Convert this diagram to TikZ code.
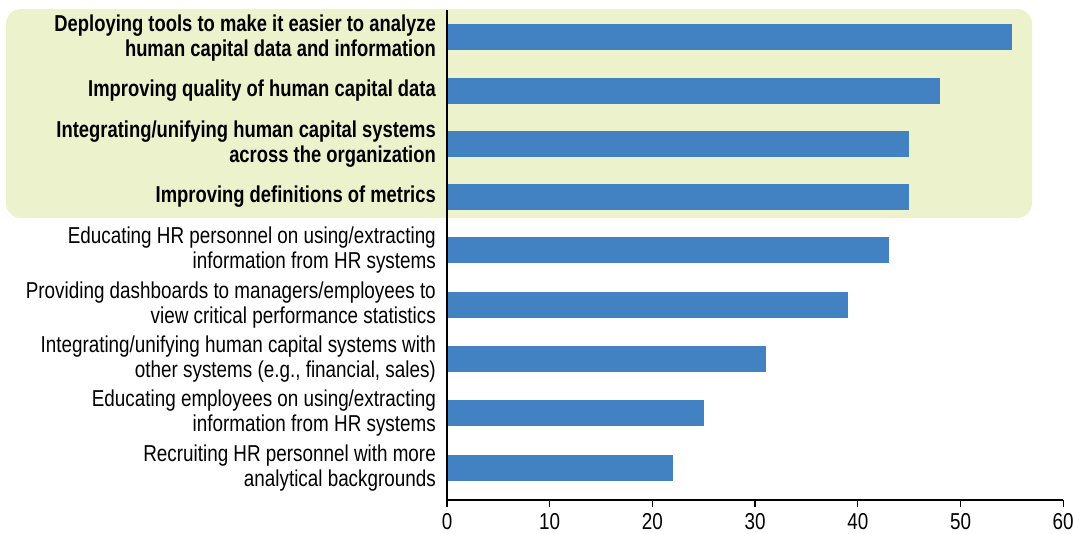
\documentclass[tikz,border=0pt]{standalone}
\usepackage{fontspec}
\setmainfont{Liberation Sans}[FakeStretch=0.82, BoldFeatures={FakeStretch=0.8}]
\usetikzlibrary{positioning}
\definecolor{barblue}{RGB}{66,130,194}
\definecolor{paleolive}{RGB}{236,243,204}

\begin{document}
\begin{tikzpicture}[x=1pt,y=-1pt]
%\draw [help lines] (0,0) grid (1074,533);
\tikzset{
	labA/.style={
		anchor=east,
		inner sep=0pt,
		align=right,
		font=\fontsize{23}{25}\selectfont\bfseries
	},
	labB/.style={
		anchor=east,
		inner sep=0pt,
		align=right,
		font=\fontsize{23}{25}\selectfont
	},
	hbar/.style={
		rectangle,
		anchor=west,
		inner sep=0pt,
		fill=barblue,
		minimum height=26pt
	},
	ticklab/.style={
		anchor=north,
		inner sep=0pt,
		font=\fontsize{23}{25}\selectfont
	},
}
\useasboundingbox (0,0) rectangle (1074,533);

% highlighted group
\fill[paleolive, rounded corners=15pt] (6,9) rectangle (1032,218);

% bars
\foreach \v/\c [count=\i] in {55/37, 48/91, 45/144, 45/197, 43/250, 39/305, 31/359, 25/413, 22/468}
	\node (bar\i) [hbar, minimum width=\v*10.27pt] at (447,\c) {};

% labels
\node (l1) [labA] at (436,38) {Deploying tools to make it easier to analyze\\human capital data and information};
\node (l2) [labA] at (436,91) {Improving quality of human capital data};
\node (l3) [labA] at (436,144) {Integrating/unifying human capital systems\\across the organization};
\node (l4) [labA] at (436,197) {Improving definitions of metrics};
\node (l5) [labB] at (436,250) {Educating HR personnel on using/extracting\\information from HR systems};
\node (l6) [labB] at (436,305) {Providing dashboards to managers/employees to\\view critical performance statistics};
\node (l7) [labB] at (436,359) {Integrating/unifying human capital systems with\\other systems (e.g., financial, sales)};
\node (l8) [labB] at (436,413) {Educating employees on using/extracting\\information from HR systems};
\node (l9) [labB] at (436,468) {Recruiting HR personnel with more\\analytical backgrounds};

% axes
\coordinate (top) at (447,10);
\coordinate (o) at (447,500);
\coordinate (xend) at (1063,500);
\draw[line width=1.3pt] (top) -- (o) -- (xend);
\foreach \t in {0,10,...,60}
	\draw[line width=1.3pt] (447+\t*10.27,500) -- ++(0,7) node (t\t) [ticklab, below=6pt] {\t};
\end{tikzpicture}
\end{document}
